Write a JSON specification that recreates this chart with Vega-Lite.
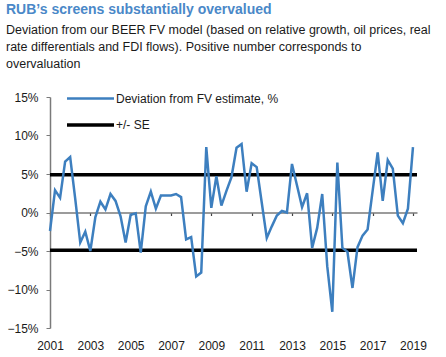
{
  "$schema": "https://vega.github.io/schema/vega-lite/v6.json",
  "autosize": {"type": "none"},
  "width": 367,
  "height": 231,
  "padding": {"left": 50, "top": 97, "right": 29, "bottom": 29},
  "background": "white",
  "config": {
    "font": "Liberation Sans",
    "view": {"stroke": null},
    "axis": {"labelFont": "Liberation Sans", "labelFontSize": 12, "labelColor": "#1a1a1a", "grid": false},
    "legend": {"labelFont": "Liberation Sans", "labelFontSize": 12, "labelColor": "#1a1a1a", "labelLimit": 0}
  },
  "title": {
    "text": "RUB’s screens substantially overvalued",
    "subtitle": ["Deviation from our BEER FV model (based on relative growth, oil prices, real", "rate differentials and FDI flows). Positive number corresponds to", "overvaluation"],
    "anchor": "start",
    "frame": "group",
    "dx": -44,
    "offset": 21,
    "font": "Liberation Sans",
    "fontSize": 14,
    "fontWeight": "bold",
    "color": "#4a88c8",
    "subtitleFont": "Liberation Sans",
    "subtitleFontSize": 12.5,
    "subtitleColor": "#1a1a1a",
    "subtitleLineHeight": 17,
    "subtitlePadding": 7
  },
  "datasets": {
    "dev": [
      {"date": 2001.00, "value": -2.4}, {"date": 2001.25, "value": 2.9}, {"date": 2001.50, "value": 1.9}, {"date": 2001.75, "value": 6.6},
      {"date": 2002.00, "value": 7.2}, {"date": 2002.25, "value": 1.8}, {"date": 2002.50, "value": -3.9}, {"date": 2002.75, "value": -2.5},
      {"date": 2003.00, "value": -5.0}, {"date": 2003.25, "value": -0.6}, {"date": 2003.50, "value": 1.4}, {"date": 2003.75, "value": 0.4},
      {"date": 2004.00, "value": 2.4}, {"date": 2004.25, "value": 1.5}, {"date": 2004.50, "value": -0.5}, {"date": 2004.75, "value": -3.9},
      {"date": 2005.00, "value": -0.3}, {"date": 2005.25, "value": -0.1}, {"date": 2005.50, "value": -5.2}, {"date": 2005.75, "value": 0.8},
      {"date": 2006.00, "value": 2.7}, {"date": 2006.25, "value": 0.5}, {"date": 2006.50, "value": 2.2}, {"date": 2006.75, "value": 2.2},
      {"date": 2007.00, "value": 2.2}, {"date": 2007.25, "value": 2.4}, {"date": 2007.50, "value": 2.0}, {"date": 2007.75, "value": -3.5},
      {"date": 2008.00, "value": -3.2}, {"date": 2008.25, "value": -8.3}, {"date": 2008.50, "value": -7.8}, {"date": 2008.75, "value": 8.5},
      {"date": 2009.00, "value": 0.6}, {"date": 2009.25, "value": 4.7}, {"date": 2009.50, "value": 0.9}, {"date": 2009.75, "value": 2.8},
      {"date": 2010.00, "value": 4.6}, {"date": 2010.25, "value": 8.4}, {"date": 2010.50, "value": 8.9}, {"date": 2010.75, "value": 2.7},
      {"date": 2011.00, "value": 6.4}, {"date": 2011.25, "value": 5.9}, {"date": 2011.50, "value": 1.3}, {"date": 2011.75, "value": -3.3},
      {"date": 2012.00, "value": -1.8}, {"date": 2012.25, "value": -0.4}, {"date": 2012.50, "value": 0.2}, {"date": 2012.75, "value": 0.0},
      {"date": 2013.00, "value": 6.3}, {"date": 2013.25, "value": 3.5}, {"date": 2013.50, "value": 0.7}, {"date": 2013.75, "value": 2.5},
      {"date": 2014.00, "value": -4.6}, {"date": 2014.25, "value": -2.0}, {"date": 2014.50, "value": 2.4}, {"date": 2014.75, "value": -7.0},
      {"date": 2015.00, "value": -12.9}, {"date": 2015.25, "value": 6.5}, {"date": 2015.50, "value": -4.6}, {"date": 2015.75, "value": -5.1},
      {"date": 2016.00, "value": -9.8}, {"date": 2016.25, "value": -4.5}, {"date": 2016.50, "value": -3.0}, {"date": 2016.75, "value": -2.2},
      {"date": 2017.00, "value": 2.8}, {"date": 2017.25, "value": 7.8}, {"date": 2017.50, "value": 1.5}, {"date": 2017.75, "value": 6.8},
      {"date": 2018.00, "value": 5.7}, {"date": 2018.25, "value": -0.4}, {"date": 2018.50, "value": -1.4}, {"date": 2018.75, "value": 0.5},
      {"date": 2019.00, "value": 8.5}
    ],
    "se": [
      {"series": "+/- SE", "se": 4.9},
      {"series": "+/- SE", "se": -4.9}
    ]
  },
  "layer": [
    {
      "data": {"name": "dev"},
      "transform": [{"calculate": "'Deviation from FV estimate, %'", "as": "series"}],
      "mark": {"type": "point", "opacity": 0},
      "encoding": {
        "x": {"field": "date", "type": "quantitative", "scale": {"domain": [2001, 2019.2], "nice": false, "zero": false},
          "axis": {"orient": "bottom", "offset": -115.5, "values": [2001, 2003, 2005, 2007, 2009, 2011, 2013, 2015, 2017, 2019], "labels": false, "title": null,
            "domainColor": "#7a7a7a", "domainWidth": 1.5, "tickColor": "#444444", "tickSize": 3, "tickWidth": 1.2}},
        "y": {"field": "value", "type": "quantitative", "scale": {"domain": [-15, 15], "nice": false},
          "axis": {"tickCount": 6, "labelExpr": "datum.label + '%'", "title": null, "labelOverlap": false,
            "domainColor": "#7a7a7a", "domainWidth": 1.5, "tickColor": "#7a7a7a", "tickSize": 4, "labelPadding": 8}}
      }
    },
    {
      "data": {"name": "se"},
      "mark": {"type": "rule"},
      "encoding": {
        "y": {"field": "se", "type": "quantitative"},
        "color": {"field": "series", "type": "nominal"},
        "strokeWidth": {"field": "series", "type": "nominal"}
      }
    },
    {
      "data": {"name": "dev"},
      "transform": [{"calculate": "'Deviation from FV estimate, %'", "as": "series"}],
      "mark": {"type": "line", "strokeJoin": "miter"},
      "encoding": {
        "x": {"field": "date", "type": "quantitative", "scale": {"domain": [2001, 2019.2], "nice": false, "zero": false},
          "axis": {"orient": "bottom", "values": [2001, 2003, 2005, 2007, 2009, 2011, 2013, 2015, 2017, 2019], "format": "d", "title": null,
            "domain": false, "ticks": false, "labelPadding": 12, "labelFlush": false}},
        "y": {"field": "value", "type": "quantitative"},
        "color": {"field": "series", "type": "nominal",
          "scale": {"domain": ["Deviation from FV estimate, %", "+/- SE"], "range": ["#3d7fbf", "#000000"]},
          "legend": {"orient": "none", "legendX": 15, "legendY": -5, "title": null, "symbolType": "M-1,0H8.4", "symbolSize": 100,
            "rowPadding": 13, "labelOffset": 37, "padding": 0}},
        "strokeWidth": {"field": "series", "type": "nominal",
          "scale": {"domain": ["Deviation from FV estimate, %", "+/- SE"], "range": [2.5, 3.5]},
          "legend": {"orient": "none", "legendX": 15, "legendY": -5, "title": null, "symbolType": "M-1,0H8.4", "symbolSize": 100,
            "rowPadding": 13, "labelOffset": 37, "padding": 0}}
      }
    }
  ],
  "resolve": {"axis": {"x": "independent"}}
}
